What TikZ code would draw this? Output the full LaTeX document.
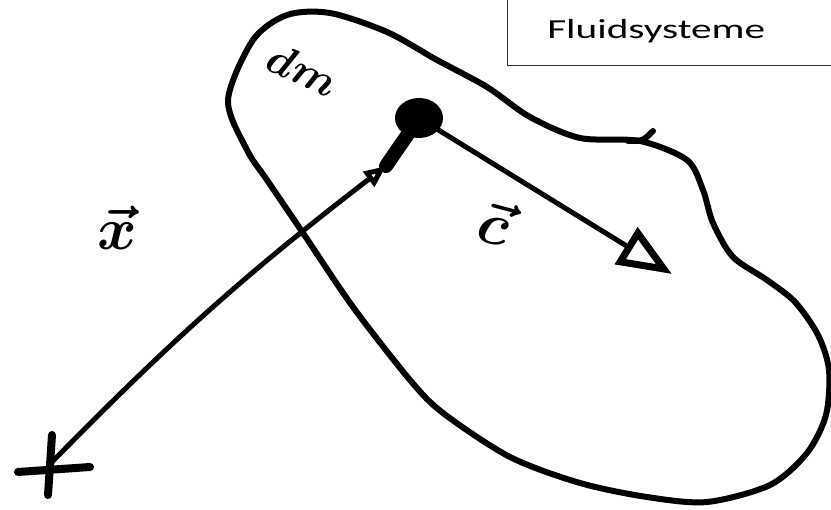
\RequirePackage{fix-cm}
\documentclass[tikz,border=0pt]{standalone}
\usepackage{fontspec}
\usepackage{amsmath}
\newfontfamily\titlefont{Carlito}
\usetikzlibrary{arrows.meta,shapes.geometric}

\tikzset{
  ink/.style={line width=6pt, line cap=round, line join=round},
  vecline/.style={ink, line width=5pt},
  bighead/.style={-{Triangle[open,length=54pt,width=42pt,line width=7pt]}},
  smallhead/.style={-{Triangle[open,length=22pt,width=18pt]}},
  hand/.style={font=\fontsize{44}{44}\selectfont\boldmath},
  handbig/.style={font=\fontsize{60}{60}\selectfont\boldmath},
}

\begin{document}
\begin{tikzpicture}[x=1pt,y=-1pt]
\useasboundingbox (0,0) rectangle (831,510);

% title
\node (title) [anchor=base west, xscale=1.5, inner sep=0pt,
  font=\titlefont\fontsize{27.5}{30}\selectfont] at (547,39) {Fluidsysteme};
\draw[line width=1pt, black!80] (507,0) -- (507,66) -- (831,66);

% fluid body
\draw[ink] plot[smooth cycle] coordinates {
  (228,100) (253,40) (287,15) (330,13) (387,32) (437,60) (487,87)
  (530,117) (580,138) (640,141) (687,160) (703,190) (713,223)
  (733,257) (767,280) (795,302) (818,335) (829,370) (826,415)
  (807,453) (770,485) (707,502) (647,497) (580,483) (510,457)
  (443,413) (410,380) (353,307) (303,233) (267,180) (247,150)};
\draw[ink] (628,141) .. controls (643,141) .. (653,131);

% mass element and points
\node (dot) [ellipse, fill, minimum width=48pt, minimum height=40pt, inner sep=0pt] at (419,118) {};
\coordinate (origin) at (52,462);
\coordinate (xtip) at (386,166);
\coordinate (ctip) at (672,274);

% origin cross
\draw[ink, line width=8pt] (18,472) -- (90,467);
\draw[ink, line width=8pt] (52,435) -- (48,495);

% vectors
\draw[vecline, smallhead] (origin) to[bend left=4] (xtip);
\draw[line width=14pt, line cap=round] (xtip) -- (dot.center);
\draw[vecline, bighead] (dot) -- (ctip);

% labels
\node (dm) [hand, rotate=-25, inner sep=0pt] at (303,70) {$dm$};
\node (xlabel) [handbig, inner sep=0pt] at (117,228) {$\vec{x}$};
\node (clabel) [handbig, rotate=-15, inner sep=0pt] at (495,222) {$\vec{c}$};
\end{tikzpicture}
\end{document}
